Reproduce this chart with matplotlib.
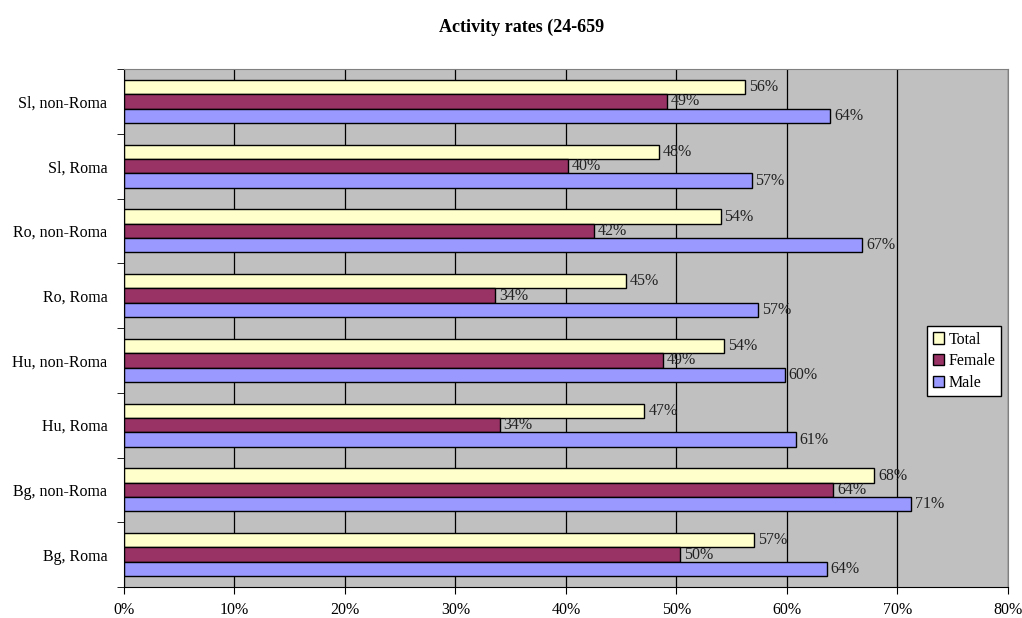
import matplotlib.pyplot as plt
import numpy as np
from matplotlib.ticker import MultipleLocator, FuncFormatter

plt.rcParams['font.family'] = ['Liberation Serif', 'DejaVu Serif']

# categories from bottom to top
categories = ["Bg, Roma", "Bg, non-Roma", "Hu, Roma", "Hu, non-Roma",
              "Ro, Roma", "Ro, non-Roma", "Sl, Roma", "Sl, non-Roma"]
total = [57.0, 67.9, 47.1, 54.3, 45.4, 54.0, 48.4, 56.2]
female = [50.3, 64.2, 34.0, 48.8, 33.6, 42.5, 40.2, 49.1]
male = [63.6, 71.2, 60.8, 59.8, 57.4, 66.8, 56.8, 63.9]

series = [("Total", total, "#FFFFCC"),
          ("Female", female, "#993366"),
          ("Male", male, "#9999FF")]

fig = plt.figure(figsize=(10.22, 6.18), dpi=100)
ax = fig.add_axes([0.1213, 0.0502, 0.865, 0.838])
ax.set_facecolor("#C0C0C0")

y = np.arange(len(categories))
h = 0.222
offsets = [h, 0, -h]
for (name, vals, col), off in zip(series, offsets):
    bars = ax.barh(y + off, vals, height=h, color=col, edgecolor="black",
                   linewidth=1, label=name)
    for b, v in zip(bars, vals):
        ax.text(v + 0.35, b.get_y() + h / 2, f"{v:.0f}%", va="center",
                ha="left", fontsize=11.5, color="#222222")

ax.set_xlim(0, 80)
ax.set_ylim(-0.5, len(categories) - 0.5)
ax.xaxis.set_major_locator(MultipleLocator(10))
ax.xaxis.set_major_formatter(FuncFormatter(lambda v, p: f"{v:.0f}%"))
ax.grid(axis="x", color="black", linewidth=0.9)
ax.set_axisbelow(True)

ax.set_yticks(y)
ax.set_yticklabels(categories)
ax.set_yticks(np.arange(-0.5, len(categories)), minor=True)
ax.tick_params(axis="y", which="major", length=0, pad=12, labelsize=11.5)
ax.tick_params(axis="y", which="minor", length=5, color="black")
ax.tick_params(axis="x", length=5, labelsize=11.5, pad=6)

for s in ["top", "right"]:
    ax.spines[s].set_color("#808080")
for s in ["left", "bottom"]:
    ax.spines[s].set_color("black")

leg = ax.legend(loc="upper left", bbox_to_anchor=(0.907, 0.4725),
                bbox_transform=fig.transFigure, fontsize=11.5,
                frameon=True, fancybox=False, edgecolor="black",
                framealpha=1, handlelength=0.7, handleheight=0.7,
                handletextpad=0.3, borderpad=0.35, labelspacing=0.35,
                borderaxespad=0)
leg.get_frame().set_linewidth(1)

fig.text(0.51, 0.955, "Activity rates (24-659", ha="center", va="center",
         fontsize=13, fontweight="bold")

fig.savefig("out.png", dpi=100)
